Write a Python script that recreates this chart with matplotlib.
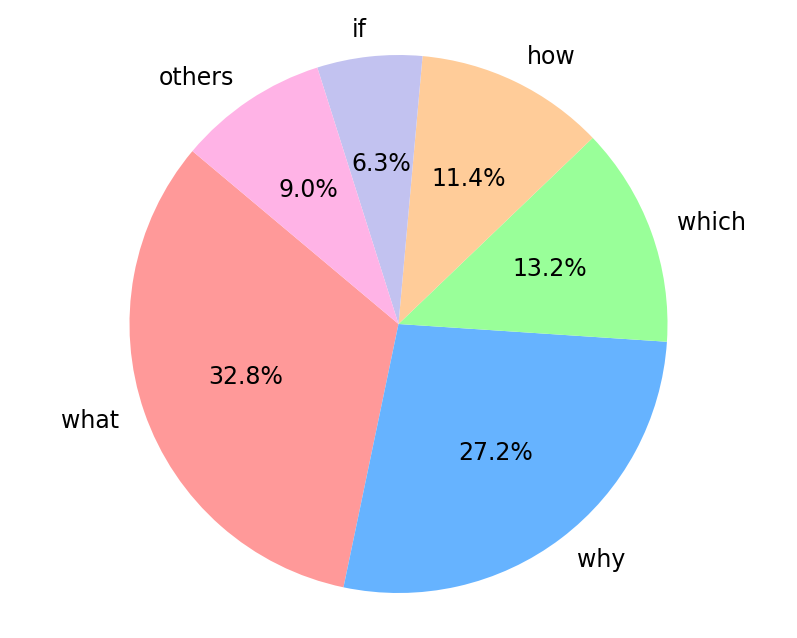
import matplotlib
matplotlib.use('Agg')
import matplotlib.pyplot as plt

labels = ['what', 'why', 'which', 'how', 'if', 'others']
shares = [32.8, 27.2, 13.2, 11.4, 6.3, 9.0]
colours = ['#ff9999', '#66b3ff', '#99ff99', '#ffcc99', '#c2c2f0', '#ffb3e6']

fig = plt.figure(figsize=(7.97, 6.38), dpi=100)
ax = fig.add_axes([0, 0, 1, 1])

ax.pie(shares, labels=labels, colors=colours, autopct='%1.1f%%',
       startangle=140, textprops={'fontsize': 17})

# centre at about (398.5, 324) px, radius ~269 px
r = 269.0
cx, cy = 398.5, 324.0
ax.set_xlim(-cx / r, (797 - cx) / r)
ax.set_ylim(-(638 - cy) / r, cy / r)
ax.axis('off')

fig.savefig('out.png', dpi=100)
